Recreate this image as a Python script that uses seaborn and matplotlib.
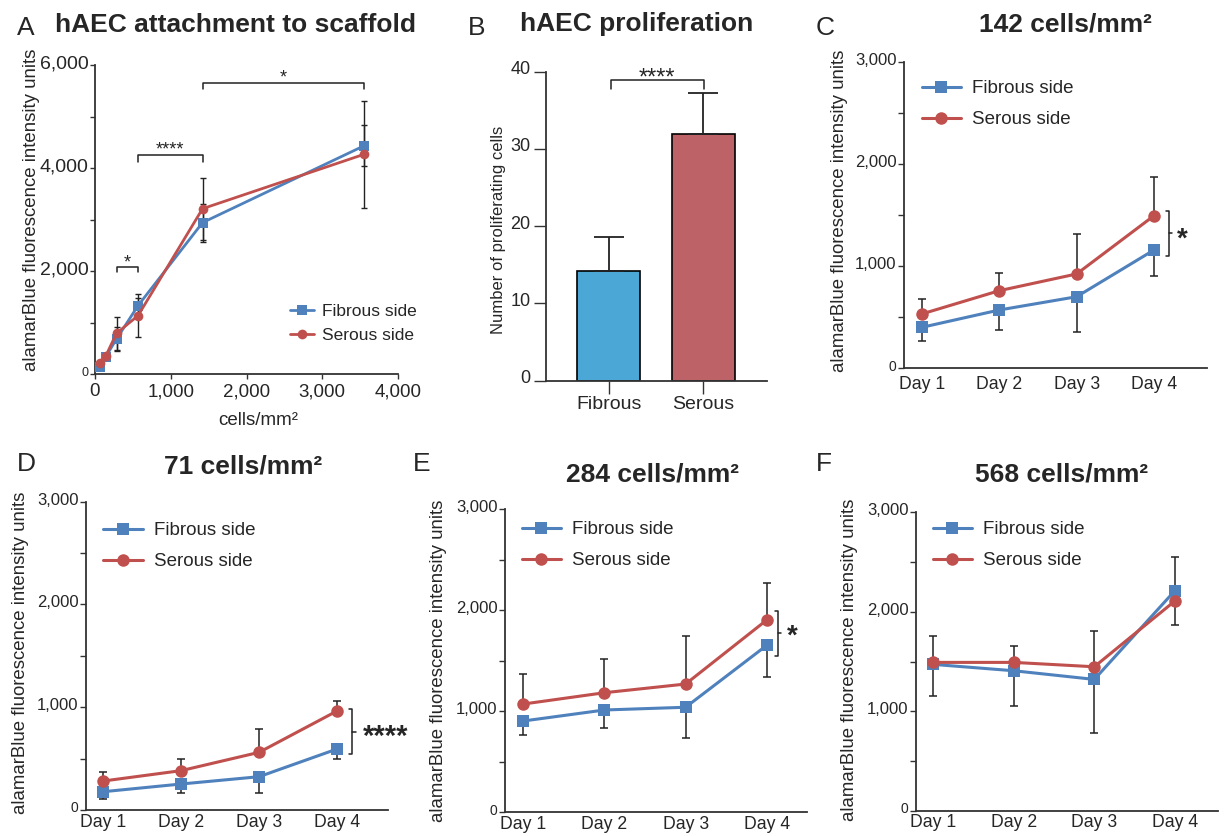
import matplotlib
matplotlib.use("Agg")
import matplotlib.pyplot as plt
import matplotlib.transforms as mtransforms
import seaborn as sns

sns.set_style("ticks")
plt.rcParams["font.family"] = ["Liberation Sans", "DejaVu Sans"]

W, H = 1224, 836
BLUE = "#4F81BD"
RED = "#C0504D"
BAR_BLUE = "#4BA8D6"
BAR_RED = "#BD6266"
INK = "#222222"

# A: attachment vs seeding density
density = [71, 142, 284, 568, 1420, 3550]
attach_fibrous = [142, 336, 680, 1327, 2940, 4430]
attach_fibrous_sd = [40, 60, 230, 150, 370, 400]
attach_serous = [208, 350, 790, 1133, 3210, 4265]
attach_serous_sd = [40, 60, 320, 420, 600, 1040]

# B: proliferation
prolif_groups = ["Fibrous", "Serous"]
prolif_mean = [14.2, 32.0]
prolif_sd = [4.4, 5.2]

# C-F: time course (fibrous error drawn down, serous up)
days = ["Day 1", "Day 2", "Day 3", "Day 4"]
c_fibrous = [398, 568, 698, 1156]
c_fibrous_sd = [137, 196, 343, 255]
c_serous = [529, 757, 921, 1492]
c_serous_sd = [144, 170, 388, 381]

d_fibrous = [178, 253, 324, 593]
d_fibrous_sd = [74, 91, 162, 100]
d_serous = [282, 383, 561, 963]
d_serous_sd = [91, 110, 227, 97]

e_fibrous = [904, 1013, 1040, 1653]
e_fibrous_sd = [139, 181, 301, 310]
e_serous = [1072, 1184, 1270, 1904]
e_serous_sd = [294, 331, 476, 363]

f_fibrous = [1471, 1407, 1320, 2211]
f_fibrous_sd = [315, 352, 542, 342]
f_serous = [1491, 1491, 1447, 2108]
f_serous_sd = [268, 164, 359, 439]

YLABEL = "alamarBlue fluorescence intensity units"

fig = plt.figure(figsize=(W / 100, H / 100), dpi=100)


def px_axes(left, top, right, bottom):
    return fig.add_axes([left / W, 1 - bottom / H, (right - left) / W, (bottom - top) / H])


def base_style(ax, tick_len):
    sns.despine(ax=ax)
    for side in ("left", "bottom"):
        ax.spines[side].set_color("#333333")
        ax.spines[side].set_linewidth(1.3)
    ax.tick_params(axis="both", which="both", direction="out", color="#333333",
                   width=1, length=tick_len)


def lift_yticklabels(ax, px=3):
    # the original software draws the y labels a touch above their ticks
    shift = mtransforms.ScaledTranslation(0, px / 100, fig.dpi_scale_trans)
    for lab in ax.get_yticklabels():
        lab.set_transform(lab.get_transform() + shift)


def place_ylabel(ax, text, box, cx, cy, size):
    left, top, right, bottom = box
    ax.set_ylabel(text, fontsize=size)
    ax.yaxis.set_label_coords((cx - left) / (right - left), (bottom - cy) / (bottom - top))
    ax.yaxis.label.set_va("center")


def headline(letter, lx, ly, title, tx, ty):
    fig.text(lx / W, 1 - ly / H, letter, fontsize=19, ha="left", va="baseline")
    fig.text(tx / W, 1 - ty / H, title, fontsize=19, fontweight="bold", ha="center", va="baseline")


def hbracket(ax, x0, x1, y, leg, text, ty, size):
    ax.plot([x0, x0, x1, x1], [y - leg, y, y, y - leg], color=INK, lw=1.1, clip_on=False)
    ax.text((x0 + x1) / 2, ty, text, ha="center", va="baseline", fontsize=size)


def vbracket(ax, x, y0, y1, stub, text, tx, ty, size):
    ax.plot([x - stub, x, x, x - stub], [y0, y0, y1, y1], color=INK, lw=1.1, clip_on=False)
    ax.plot([x, x + stub], [(y0 + y1) / 2] * 2, color=INK, lw=1.1, clip_on=False)
    ax.text(tx, ty, text, ha="center", va="baseline", fontsize=size, fontweight="bold",
            clip_on=False)


def side_legend(ax, lx, ly, size, hlen, pad, spacing):
    ax.legend(loc="upper left", bbox_to_anchor=(lx / W, 1 - ly / H), bbox_transform=fig.transFigure,
              frameon=False, fontsize=size, handlelength=hlen, handletextpad=pad,
              labelspacing=spacing, borderpad=0, borderaxespad=0)


# ---------------- A ----------------
boxA = (95, 65, 398, 374)
ax = px_axes(*boxA)
ax.errorbar(density, attach_fibrous, yerr=attach_fibrous_sd, fmt="none", ecolor=INK,
            elinewidth=1, capsize=2.5, capthick=1, zorder=1)
ax.errorbar(density, attach_serous, yerr=attach_serous_sd, fmt="none", ecolor=INK,
            elinewidth=1, capsize=2.5, capthick=1, zorder=1)
sns.lineplot(x=density, y=attach_fibrous, ax=ax, color=BLUE, linewidth=2, marker="s",
             markersize=6.5, markeredgecolor=BLUE, markeredgewidth=0, label="Fibrous side", zorder=3)
sns.lineplot(x=density, y=attach_serous, ax=ax, color=RED, linewidth=2, marker="o",
             markersize=7, markeredgecolor=RED, markeredgewidth=0, label="Serous side", zorder=3)
base_style(ax, 3.5)
ax.set_xlim(0, 4000)
ax.set_ylim(0, 6000)
ax.set_xticks([0, 1000, 2000, 3000, 4000], ["0", "1,000", "2,000", "3,000", "4,000"])
ax.set_yticks([0, 2000, 4000, 6000], ["0", "2,000", "4,000", "6,000"])
ax.set_yticks([1000, 3000, 5000], minor=True)
ax.tick_params(axis="x", labelsize=13.5, pad=3)
ax.tick_params(axis="y", labelsize=14, pad=1)
ax.get_yticklabels()[0].set_fontsize(9)
lift_yticklabels(ax, 3)
ax.set_xlabel("cells/mm²", fontsize=13.5)
ax.xaxis.set_label_coords((258 - 95) / 303, (374 - 420) / 309)
ax.xaxis.label.set_va("center")
place_ylabel(ax, YLABEL, boxA, 31.7, 210, 13.4)
side_legend(ax, 290, 304, 12.5, 1.4, 0.45, 0.5)
hbracket(ax, 284, 568, 2083, 97, "*", 2060, 13)
hbracket(ax, 568, 1420, 4247, 125, "****", 4270, 13)
hbracket(ax, 1420, 3550, 5645, 117, "*", 5660, 13)
headline("A", 16.7, 35, "hAEC attachment to scaffold", 235, 32)

# ---------------- B ----------------
boxB = (545.7, 71.7, 766.7, 380.7)
ax = px_axes(*boxB)
sns.barplot(x=prolif_groups, y=prolif_mean, hue=prolif_groups, palette=[BAR_BLUE, BAR_RED],
            saturation=1, legend=False, edgecolor="black", linewidth=1.2, width=0.667,
            errorbar=None, ax=ax)
ax.errorbar([0, 1], prolif_mean, yerr=[[0, 0], prolif_sd], fmt="none", ecolor=INK,
            elinewidth=1.3, capsize=11, capthick=1.3, zorder=3)
base_style(ax, 9)
ax.set_xlim(-0.667, 1.672)
ax.set_ylim(0, 40)
ax.set_yticks([0, 10, 20, 30, 40])
ax.tick_params(axis="x", labelsize=14, pad=2)
ax.tick_params(axis="y", labelsize=13, pad=2)
lift_yticklabels(ax, 4)
place_ylabel(ax, "Number of proliferating cells", boxB, 499, 229.5, 12)
hbracket(ax, 0.02, 1.005, 38.9, 1.2, "****", 38.4, 17)
headline("B", 467.7, 35, "hAEC proliferation", 637, 31)


# ---------------- C-F ----------------
def time_panel(box, xlim, fib, fib_sd, ser, ser_sd, ylab_xy, leg_xy, day_pad):
    ax = px_axes(*box)
    x = list(range(len(days)))
    zeros = [0] * len(days)
    ax.errorbar(x, fib, yerr=[fib_sd, zeros], fmt="none", ecolor=INK, elinewidth=1.1,
                capsize=3, capthick=1.1, zorder=1)
    ax.errorbar(x, ser, yerr=[zeros, ser_sd], fmt="none", ecolor=INK, elinewidth=1.1,
                capsize=3, capthick=1.1, zorder=1)
    sns.lineplot(x=x, y=fib, ax=ax, color=BLUE, linewidth=2.2, marker="s", markersize=8.5,
                 markeredgecolor=BLUE, markeredgewidth=0, label="Fibrous side", zorder=3)
    sns.lineplot(x=x, y=ser, ax=ax, color=RED, linewidth=2.2, marker="o", markersize=9,
                 markeredgecolor=RED, markeredgewidth=0, label="Serous side", zorder=3)
    base_style(ax, 4.5)
    ax.set_xlim(*xlim)
    ax.set_ylim(0, 3000)
    ax.set_xticks(x, days)
    ax.set_yticks([0, 1000, 2000, 3000], ["0", "1,000", "2,000", "3,000"])
    ax.set_yticks([500, 1500, 2500], minor=True)
    ax.tick_params(axis="x", length=0, labelsize=12.7, pad=day_pad)
    ax.tick_params(axis="y", labelsize=12, pad=1)
    ax.get_yticklabels()[0].set_fontsize(10)
    lift_yticklabels(ax, 3)
    place_ylabel(ax, YLABEL, box, ylab_xy[0], ylab_xy[1], 13.4)
    side_legend(ax, leg_xy[0], leg_xy[1], 13.5, 2.1, 0.6, 0.75)
    return ax


ax = time_panel((904.3, 61.7, 1206.7, 368), (-0.225, 3.68), c_fibrous, c_fibrous_sd,
                c_serous, c_serous_sd, (839, 211), (921.7, 80), 6)
vbracket(ax, 3.19, 1097, 1540, 0.04, "*", 3.36, 1191, 20)
headline("C", 816, 35, "142 cells/mm²", 1065, 31)

ax = time_panel((86, 501.7, 388.3, 810), (-0.222, 3.66), d_fibrous, d_fibrous_sd,
                d_serous, d_serous_sd, (20, 653), (103.3, 522), 3)
vbracket(ax, 3.2, 542, 982, 0.04, "****", 3.62, 634, 21)
headline("D", 16.7, 470.7, "71 cells/mm²", 243.3, 474)

ax = time_panel((505, 509.3, 807.3, 812.3), (-0.226, 3.50), e_fibrous, e_fibrous_sd,
                e_serous, e_serous_sd, (438.3, 660.8), (521.7, 521), 2.5)
vbracket(ax, 3.14, 1548, 1996, 0.04, "*", 3.32, 1666, 20)
headline("E", 413.3, 470.7, "284 cells/mm²", 652.8, 481.7)

ax = time_panel((916, 512.3, 1218.3, 810.7), (-0.214, 3.54), f_fibrous, f_fibrous_sd,
                f_serous, f_serous_sd, (850, 660), (932.7, 521), 2.5)
headline("F", 816, 470.7, "568 cells/mm²", 1061.3, 481.7)

fig.savefig("out.png", dpi=100)
